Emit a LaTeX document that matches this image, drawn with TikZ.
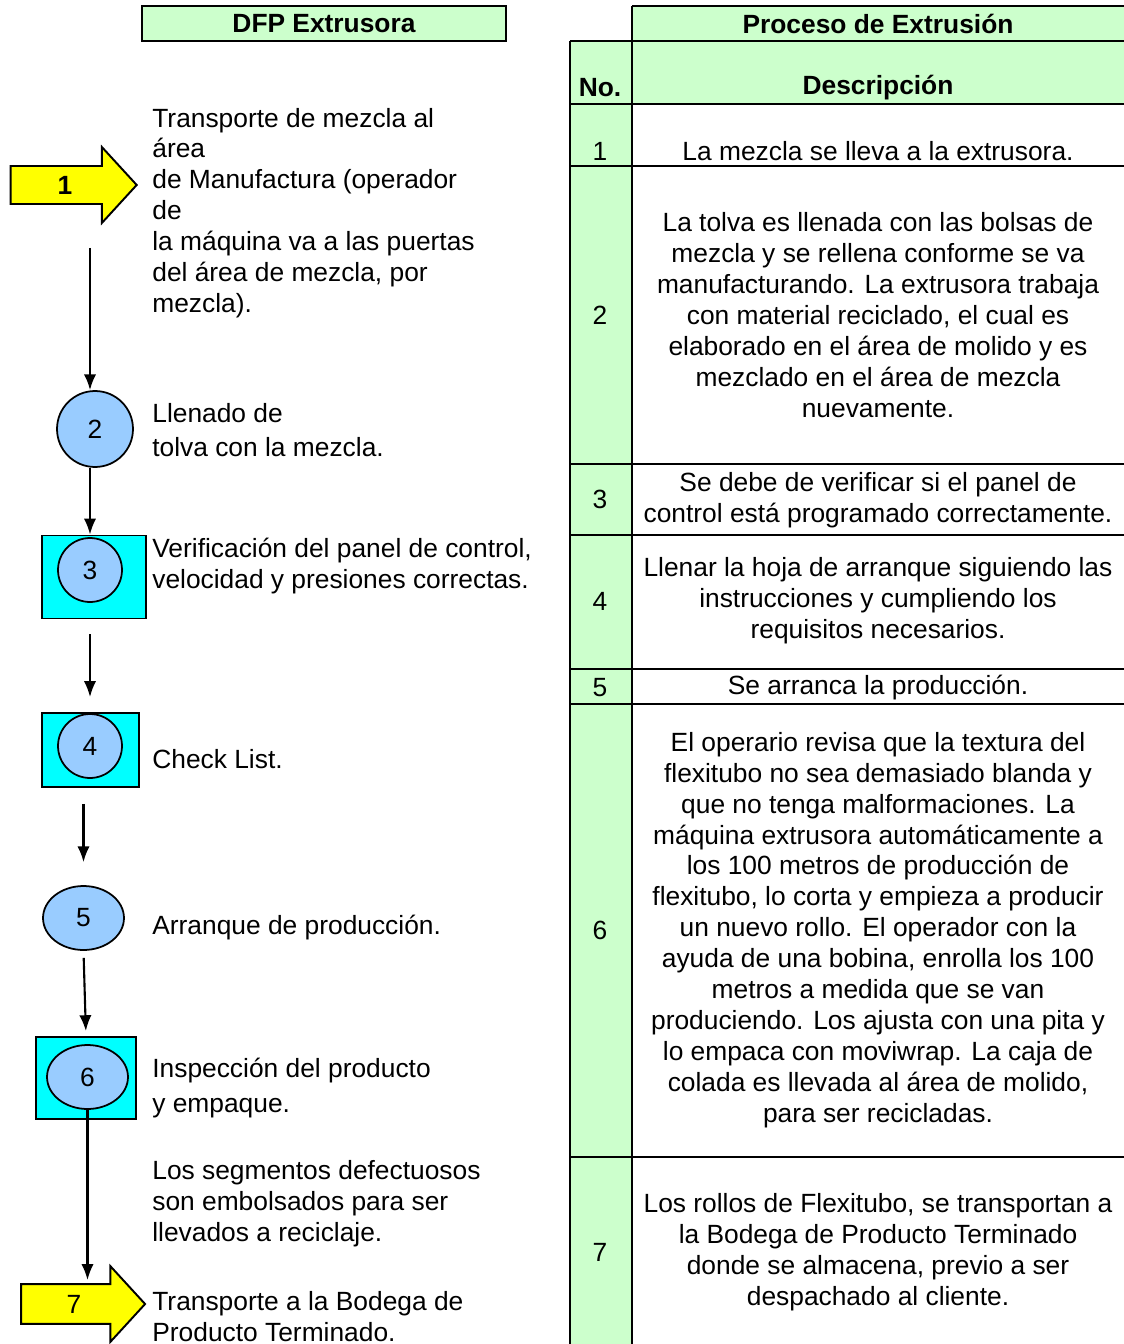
\documentclass[tikz,border=0pt]{standalone}
\usepackage{fontspec}
\setmainfont{Liberation Sans}
\usepackage{xcolor}
\usepackage{tikz}
\usetikzlibrary{shapes,arrows.meta,positioning}
\definecolor{headGreen}{HTML}{CCFFCC}
\definecolor{opBlue}{HTML}{99CCFF}
\definecolor{inspCyan}{HTML}{00FFFF}
\definecolor{moveYellow}{HTML}{FFFF00}
\newcommand{\dfpfont}{\fontsize{15}{17.6}\selectfont}
\tikzset{>={Latex[length=9pt,width=7pt]}}
\tikzset{flow-line/.style={line width=1.2pt}}
\tikzset{table-line/.style={line width=1.1pt}}
\tikzset{head-box/.style={draw, line width=1.1pt, fill=headGreen, inner sep=0, font=\dfpfont\bfseries}}
\tikzset{op-node/.style={draw, line width=1pt, fill=opBlue, inner sep=0, font=\dfpfont}}
\tikzset{op-circle/.style={op-node, circle}}
\tikzset{op-ellipse/.style={op-node, ellipse}}
\tikzset{insp-box/.style={draw, line width=1.1pt, fill=inspCyan, inner sep=0}}
\tikzset{move-arrow/.style={
        draw,
        single arrow,
        line width=1.1pt,
        fill=moveYellow,
        inner xsep=0,
        text height=10.5pt,
        text depth=0pt,
        minimum width=1.48cm,
        single arrow tip angle=95,
        font=\dfpfont
    }
}
\tikzset{desc-text/.style={anchor=west, align=left, inner sep=0, font=\dfpfont}}
\tikzset{cell-text/.style={align=center, inner sep=0, font=\dfpfont}}

\begin{document}
\begin{tikzpicture}[x=0.02cm, y=-0.02cm]
    \useasboundingbox (0,0) rectangle (1124,1344);

    % table
    \fill[headGreen] (632,6) rectangle (1124,104);
    \fill[headGreen] (570,41) rectangle (632,1344);
    \draw[table-line] (632,6) -- (1124,6);
    \draw[table-line] (632,6) -- (632,1344);
    \draw[table-line] (570,41) -- (570,1344);
    \foreach \y in {41,104,166,464,535,669,704,1157}
        \draw[table-line] (570,\y) -- (1124,\y);

    \node[cell-text, font=\dfpfont\bfseries] (proc-title) at (878,24) {Proceso de Extrusión};
    \node[cell-text, font=\dfpfont\bfseries] (no-head) at (600,88) {No.};
    \node[cell-text, font=\dfpfont\bfseries] (desc-head) at (878,88) {Descripción};
    \foreach \n/\y in {1/151,2/315,3/499,4/601,5/688,6/930,7/1252}
        \node[cell-text] (num\n) at (600,\y) {\n};

    \node[cell-text] (d1) at (878,151) {La mezcla se lleva a la extrusora.};
    \node[cell-text] (d2) at (878,315) {La tolva es llenada con las bolsas de\\mezcla y se rellena conforme se va\\manufacturando. La extrusora trabaja\\con material reciclado, el cual es\\elaborado en el área de molido y es\\mezclado en el área de mezcla\\nuevamente.};
    \node[cell-text] (d3) at (878,500) {Se debe de verificar si el panel de\\control está programado correctamente.};
    \node[cell-text] (d4) at (878,601) {Llenar la hoja de arranque siguiendo las\\instrucciones y cumpliendo los\\requisitos necesarios.};
    \node[cell-text] (d5) at (878,688) {Se arranca la producción.};
    \node[cell-text] (d6) at (878,930) {El operario revisa que la textura del\\flexitubo no sea demasiado blanda y\\que no tenga malformaciones. La\\máquina extrusora automáticamente a\\los 100 metros de producción de\\flexitubo, lo corta y empieza a producir\\un nuevo rollo. El operador con la\\ayuda de una bobina, enrolla los 100\\metros a medida que se van\\produciendo. Los ajusta con una pita y\\lo empaca con moviwrap. La caja de\\colada es llevada al área de molido,\\para ser recicladas.};
    \node[cell-text] (d7) at (878,1252) {Los rollos de Flexitubo, se transportan a\\la Bodega de Producto Terminado\\donde se almacena, previo a ser\\despachado al cliente.};

    % flow diagram
    \node[head-box, minimum width=7.28cm, minimum height=0.7cm] (dfp-title) at (324,23.5) {DFP Extrusora};

    \node[move-arrow, inner ysep=5pt, minimum height=2.52cm, single arrow head extend=0.38cm, font=\dfpfont\bfseries] (a1) at (65,185) {1};
    \node[desc-text] (t1) at (152,213) {Transporte de mezcla al\\área\\de Manufactura (operador\\de\\la máquina va a las puertas\\del área de mezcla, por\\mezcla).};

    \node[op-circle, minimum size=1.52cm] (c2) at (95,429) {2};
    \node[desc-text] (t2) at (152,430) {Llenado de\\[2pt]tolva con la mezcla.};

    \node[insp-box, minimum width=2.08cm, minimum height=1.66cm] (b3) at (94,577) {};
    \node[op-circle, minimum size=1.28cm] (c3) at (90,570) {3};
    \node[desc-text] (t3) at (152,566) {Verificación del panel de control,\\velocidad y presiones correctas.};

    \node[insp-box, minimum width=1.94cm, minimum height=1.48cm] (b4) at (90.5,750) {};
    \node[op-circle, minimum size=1.28cm] (c4) at (90,746) {4};
    \node[desc-text] (t4) at (152,759) {Check List.};

    \node[op-ellipse, minimum width=1.62cm, minimum height=1.28cm] (e5) at (83.5,918) {5};
    \node[desc-text] (t5) at (152,928) {Arranque de producción.};

    \node[insp-box, minimum width=2cm, minimum height=1.64cm] (b6) at (86,1078) {};
    \node[op-ellipse, minimum width=1.62cm, minimum height=1.28cm] (e6) at (87.5,1077) {6};
    \node[desc-text] (t6) at (152,1088) {Inspección del producto\\[2pt]y empaque.};
    \node[desc-text] (t6b) at (152,1204) {Los segmentos defectuosos\\son embolsados para ser\\llevados a reciclaje.};

    \node[move-arrow, inner ysep=5.5pt, minimum height=2.48cm, single arrow head extend=0.36cm] (a7) at (74,1304) {7};
    \node[desc-text] (t7) at (152,1317) {Transporte a la Bodega de\\Producto Terminado.};

    \draw[->, flow-line, shorten <=1.26cm] (c3 |- a1.center) -- (c3 |- c2.north);
    \draw[->, flow-line] (c2.south -| c3) -- (b3.north -| c3);
    \draw[->, flow-line, shorten <=0.3cm, shorten >=0.3cm] (b3.south -| c3) -- (b4.north -| c3);
    \draw[->, flow-line, shorten <=0.32cm, shorten >=0.46cm] (b4.south -| e5) -- (e5.north);
    \draw[->, flow-line, shorten <=0.14cm, shorten >=0.1cm] (e5.south) -- (b6.north);
    \draw[->, flow-line, shorten >=0.48cm] (e6.south) -- (e6.south |- a7.center);
\end{tikzpicture}
\end{document}
